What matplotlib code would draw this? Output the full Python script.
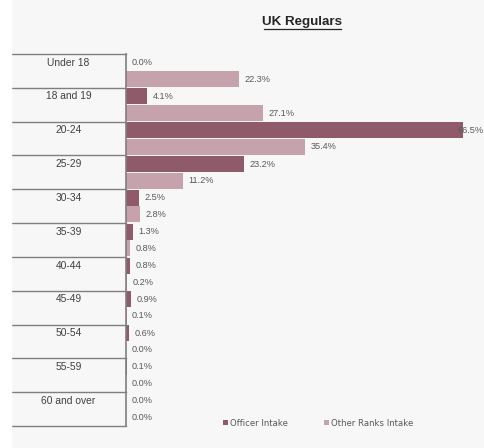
import matplotlib.pyplot as plt
import matplotlib.transforms as mtransforms
from matplotlib.patches import Rectangle
import numpy as np

# Age bands and intake shares (%)
categories = ['Under 18', '18 and 19', '20-24', '25-29', '30-34', '35-39',
              '40-44', '45-49', '50-54', '55-59', '60 and over']
officer = [0.0, 4.1, 66.5, 23.2, 2.5, 1.3, 0.8, 0.9, 0.6, 0.1, 0.0]
other_ranks = [22.3, 27.1, 35.4, 11.2, 2.8, 0.8, 0.2, 0.1, 0.0, 0.0, 0.0]

c_off = '#8f5b6b'
c_oth = '#c6a2ac'
bg = '#f7f7f7'
txt = '#595959'

W, H = 485, 448
fig = plt.figure(figsize=(W / 100, H / 100), dpi=100, facecolor=bg)
fig.patches.append(Rectangle((0, 0), 11 / W, 1, transform=fig.transFigure,
                             color='white', zorder=0))

x0, x1 = 126, 485
y_top, y_bot = 54, 426
ax = fig.add_axes([x0 / W, 1 - y_bot / H, (x1 - x0) / W, (y_bot - y_top) / H])
ax.set_facecolor(bg)
px_per_pct = (463 - 126) / 66.5
ax.set_xlim(0, (x1 - x0) / px_per_pct)
ax.set_ylim(len(categories) - 0.5, -0.5)

y = np.arange(len(categories))
h = 0.475
ax.barh(y - 0.245, officer, height=h, color=c_off, label='Officer Intake')
ax.barh(y + 0.245, other_ranks, height=h, color=c_oth, label='Other Ranks Intake')

xmax = ax.get_xlim()[1]
for yy, vals in ((y - 0.245, officer), (y + 0.245, other_ranks)):
    for yi, v in zip(yy, vals):
        xpos = v + 1.1
        if xpos > xmax - 5.5:
            xpos = v - 1.0
        ax.text(xpos, yi, f'{v:.1f}%', va='center', ha='left',
                fontsize=6.6, color=txt, family='Liberation Sans', clip_on=False)

for s in ['top', 'right', 'bottom']:
    ax.spines[s].set_visible(False)
ax.spines['left'].set_color('#7f7f7f')
ax.spines['left'].set_linewidth(1.2)
ax.set_xticks([])
ax.set_yticks([])

# left-hand category table
trans = mtransforms.blended_transform_factory(ax.transAxes, ax.transData)
left = -(x0 - 11) / (x1 - x0)
for b in np.arange(-0.5, len(categories), 1.0):
    ax.plot([left, 0], [b, b], color='#7f7f7f', lw=1.0, transform=trans,
            clip_on=False)
for i, cat in enumerate(categories):
    ax.text(left / 2, i - 0.245, cat, transform=trans, ha='center',
            va='center', fontsize=7.4, color='#404040', family='Liberation Sans')

fig.text(302 / W, 1 - 22 / H, 'UK Regulars', ha='center', va='center',
         fontsize=9.6, fontweight='bold', color='#262626',
         family='Liberation Sans')
fig.add_artist(plt.Line2D([264 / W, 341 / W], [1 - 29.5 / H, 1 - 29.5 / H],
                          color='#262626', lw=0.9))

ax.legend(loc='center', bbox_to_anchor=(318 / W, 1 - 423 / H),
          bbox_transform=fig.transFigure, ncol=2, frameon=False,
          fontsize=6.1, handlelength=0.6, handleheight=0.6,
          handletextpad=0.3, columnspacing=4.2, labelcolor=txt)

fig.savefig('out.png', dpi=100, facecolor=bg)
